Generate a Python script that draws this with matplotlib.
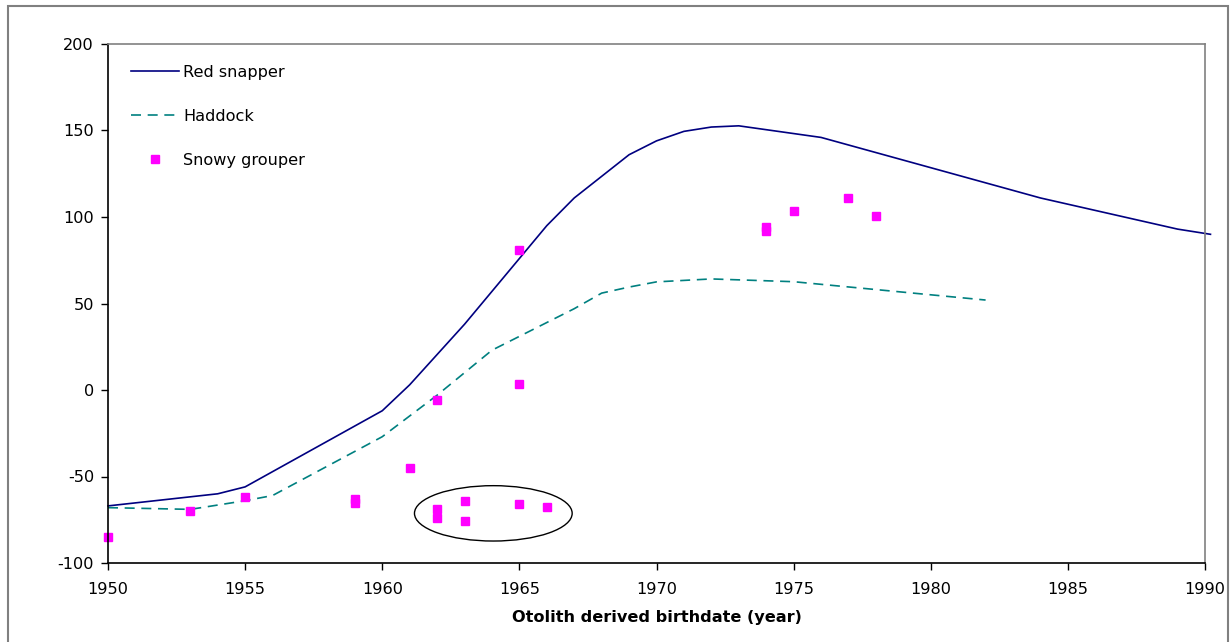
import matplotlib.pyplot as plt
from matplotlib.patches import Ellipse, Rectangle

# Red snapper curve
snapper_year = [1950, 1954, 1955, 1960, 1961, 1963, 1964, 1965, 1966, 1967, 1969, 1970,
                1971, 1972, 1973, 1976, 1984, 1989, 1990.2]
snapper_val = [-67, -60, -56, -12, 3, 38, 57, 76, 95, 111, 136, 144,
               149.5, 152, 152.7, 146, 111, 93, 90]

# Haddock curve
haddock_year = [1950, 1953, 1955, 1956, 1960, 1961, 1962, 1963, 1964, 1965, 1966, 1967,
                1968, 1969, 1970, 1972, 1975, 1982]
haddock_val = [-68, -69, -64, -61, -27, -15, -3, 10, 23, 31, 39, 47,
               56, 59.5, 62.5, 64.2, 62.6, 52]

# Snowy grouper observations
grouper_year = [1950, 1953, 1955, 1959, 1959, 1961, 1962, 1962, 1962, 1963, 1963,
                1965, 1965, 1965, 1966, 1974, 1974, 1975, 1977, 1978]
grouper_val = [-85, -70, -62, -63, -65.5, -45, -6, -69, -74, -64, -75.5,
               81, 3.5, -66, -67.5, 94, 92, 103.5, 111, 100.5]

plt.rcParams['font.family'] = ['DejaVu Sans']
plt.rcParams['axes.unicode_minus'] = False
fs = 11.6

fig = plt.figure(figsize=(12.31, 6.42), dpi=100)
ax = fig.add_axes([108 / 1231, 1 - 563 / 642, (1205 - 108) / 1231, (563 - 44) / 642])

ax.plot(snapper_year, snapper_val, color="#000080", lw=1.2, label="Red snapper", clip_on=False)
ax.plot(haddock_year, haddock_val, color="#008080", lw=1.2, ls=(0, (6, 4)), label="Haddock")
ax.plot(grouper_year, grouper_val, ls="none", marker="s", ms=6.2, color="#FF00FF",
        label="Snowy grouper", clip_on=False)

# circled group of early points
ax.add_patch(Ellipse((1964.05, -71.3), 5.75, 32, fill=False, ec="black", lw=1))

ax.set_xlim(1950, 1990)
ax.set_ylim(-100, 200)
ax.set_xticks(range(1950, 1991, 5))
ax.set_yticks(range(-100, 201, 50))
ax.tick_params(direction="out", length=5, width=1, labelsize=fs, color="black")
ax.tick_params(axis="y", pad=5)
ax.tick_params(axis="x", pad=9)

for side in ["left", "bottom"]:
    ax.spines[side].set_color("black")
    ax.spines[side].set_linewidth(1.2)
for side in ["top", "right"]:
    ax.spines[side].set_color("#808080")
    ax.spines[side].set_linewidth(1.2)

ax.set_xlabel("Otolith derived birthdate (year)", fontsize=fs, fontweight="bold", labelpad=9)

ax.legend(loc="upper left", frameon=False, fontsize=fs, labelspacing=1.8,
          handlelength=3.0, handletextpad=0.25, borderaxespad=0, borderpad=0,
          bbox_to_anchor=(0.021, 0.9595))

# outer chart frame
fig.patches.append(Rectangle((8 / 1231, -0.05), (1228 - 8) / 1231, 1 - 6 / 642 + 0.05,
                             transform=fig.transFigure, fill=False, ec="#808080", lw=1.5))

fig.savefig("out.png", dpi=100)
